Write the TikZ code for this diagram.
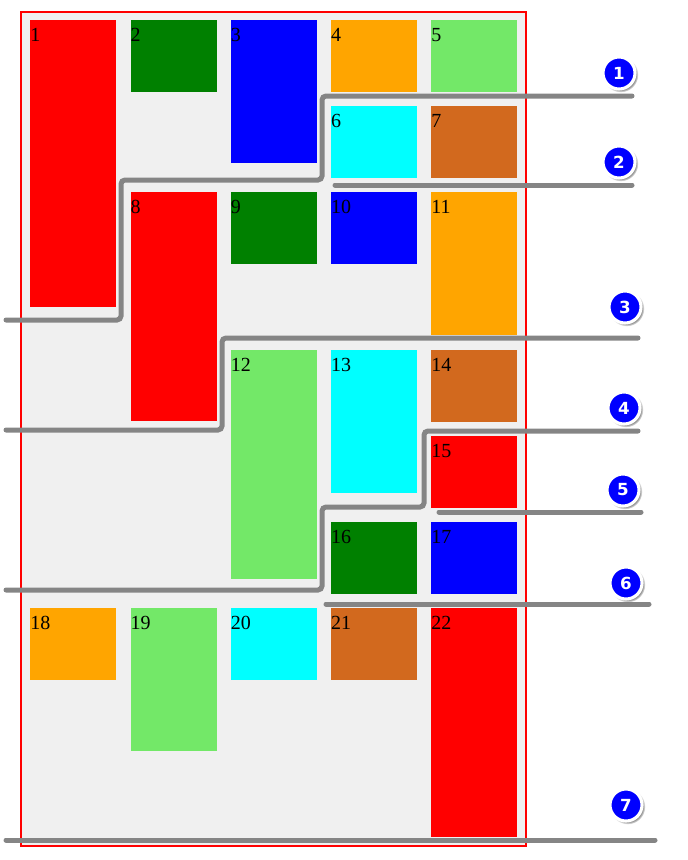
\documentclass[tikz,border=0pt]{standalone}
\usepackage{fontspec}
\setmainfont{Liberation Serif}
\newfontfamily\circfont{DejaVu Sans}
\usetikzlibrary{shadows}
\definecolor{cRed}{HTML}{FF0000}
\definecolor{cGreen}{HTML}{008000}
\definecolor{cBlue}{HTML}{0000FF}
\definecolor{cOrange}{HTML}{FFA500}
\definecolor{cLight}{HTML}{73E868}
\definecolor{cCyan}{HTML}{00FFFF}
\definecolor{cChoc}{HTML}{D2691E}
\definecolor{cBg}{HTML}{F0F0F0}
\definecolor{cLine}{HTML}{858585}
\tikzset{
  box/.style={anchor=north west, inner sep=0pt, minimum width=64.5pt, draw=none},
  h1/.style={minimum height=53.6pt},
  h2/.style={minimum height=107.2pt},
  h3/.style={minimum height=171.5pt},
  h4/.style={minimum height=215.4pt},
  num/.style={anchor=base west, inner sep=0pt, font=\fontsize{15}{18}\selectfont},
  sep/.style={draw=cLine, line width=3.75pt, line cap=round, rounded corners=3pt},
  badge/.style={circle, fill=cBlue, draw=white, line width=2.3pt, minimum size=24pt, inner sep=0pt,
    text=white, font=\circfont\bfseries\fontsize{12.5}{14}\selectfont,
    circular drop shadow={shadow xshift=1.2pt, shadow yshift=-1.2pt, shadow scale=1.1, opacity=0.6, fill=black!70}}
}
\begin{document}
\begin{tikzpicture}[x=0.75pt, y=-0.75pt]
\useasboundingbox (0,0) rectangle (687,860);
\node[draw=cRed, fill=cBg, line width=1.6pt, anchor=north west, inner sep=0pt,
  minimum width=378.75pt, minimum height=625.5pt] (frame) at (20,11) {};
\node[box,h4,fill=cRed]    (b1)  at (30,20) {};     \node[num] (t1)  at (30,41) {1};
\node[box,h1,fill=cGreen]  (b2)  at (130.25,20) {}; \node[num] (t2)  at (130.25,41) {2};
\node[box,h2,fill=cBlue]   (b3)  at (230.5,20) {};  \node[num] (t3)  at (230.5,41) {3};
\node[box,h1,fill=cOrange] (b4)  at (330.75,20) {}; \node[num] (t4)  at (330.75,41) {4};
\node[box,h1,fill=cLight]  (b5)  at (431,20) {};    \node[num] (t5)  at (431,41) {5};
\node[box,h1,fill=cCyan]   (b6)  at (330.75,106) {};\node[num] (t6)  at (330.75,127) {6};
\node[box,h1,fill=cChoc]   (b7)  at (431,106) {};   \node[num] (t7)  at (431,127) {7};
\node[box,h3,fill=cRed]    (b8)  at (130.25,192) {};\node[num] (t8)  at (130.25,213) {8};
\node[box,h1,fill=cGreen]  (b9)  at (230.5,192) {}; \node[num] (t9)  at (230.5,213) {9};
\node[box,h1,fill=cBlue]   (b10) at (330.75,192) {};\node[num] (t10) at (330.75,213) {10};
\node[box,h2,fill=cOrange] (b11) at (431,192) {};   \node[num] (t11) at (431,213) {11};
\node[box,h3,fill=cLight]  (b12) at (230.5,350) {}; \node[num] (t12) at (230.5,371) {12};
\node[box,h2,fill=cCyan]   (b13) at (330.75,350) {};\node[num] (t13) at (330.75,371) {13};
\node[box,h1,fill=cChoc]   (b14) at (431,350) {};   \node[num] (t14) at (431,371) {14};
\node[box,h1,fill=cRed]    (b15) at (431,436) {};   \node[num] (t15) at (431,457) {15};
\node[box,h1,fill=cGreen]  (b16) at (330.75,522) {};\node[num] (t16) at (330.75,543) {16};
\node[box,h1,fill=cBlue]   (b17) at (431,522) {};   \node[num] (t17) at (431,543) {17};
\node[box,h1,fill=cOrange] (b18) at (30,608) {};    \node[num] (t18) at (30,629) {18};
\node[box,h2,fill=cLight]  (b19) at (130.25,608) {};\node[num] (t19) at (130.25,629) {19};
\node[box,h1,fill=cCyan]   (b20) at (230.5,608) {}; \node[num] (t20) at (230.5,629) {20};
\node[box,h1,fill=cChoc]   (b21) at (330.75,608) {};\node[num] (t21) at (330.75,629) {21};
\node[box,h3,fill=cRed]    (b22) at (431,608) {};   \node[num] (t22) at (431,629) {22};
\coordinate (l1a) at (632,96);  \coordinate (l1b) at (6,320);
\coordinate (l2a) at (335,185); \coordinate (l2b) at (632,185);
\coordinate (l3a) at (6,430);   \coordinate (l3b) at (638,338);
\coordinate (l4a) at (6,590);   \coordinate (l4b) at (638,431);
\coordinate (l5a) at (439,512); \coordinate (l5b) at (641,512);
\coordinate (l6a) at (326,604); \coordinate (l6b) at (649,604);
\coordinate (l7a) at (6,840);   \coordinate (l7b) at (655,840);
\draw[sep] (l1a) -- (322,96) -- (322,180) -- (121,180) -- (121,320) -- (l1b);
\draw[sep] (l2a) -- (l2b);
\draw[sep] (l3a) -- (222,430) -- (222,338) -- (l3b);
\draw[sep] (l4a) -- (322,590) -- (322,507) -- (424,507) -- (424,431) -- (l4b);
\draw[sep] (l5a) -- (l5b);
\draw[sep] (l6a) -- (l6b);
\draw[sep] (l7a) -- (l7b);
\node[badge] (c1) at (619,73) {1};
\node[badge] (c2) at (619,162) {2};
\node[badge] (c3) at (625,307) {3};
\node[badge] (c4) at (624,408) {4};
\node[badge] (c5) at (623,490) {5};
\node[badge] (c6) at (626,583) {6};
\node[badge] (c7) at (626,805) {7};
\end{tikzpicture}
\end{document}
